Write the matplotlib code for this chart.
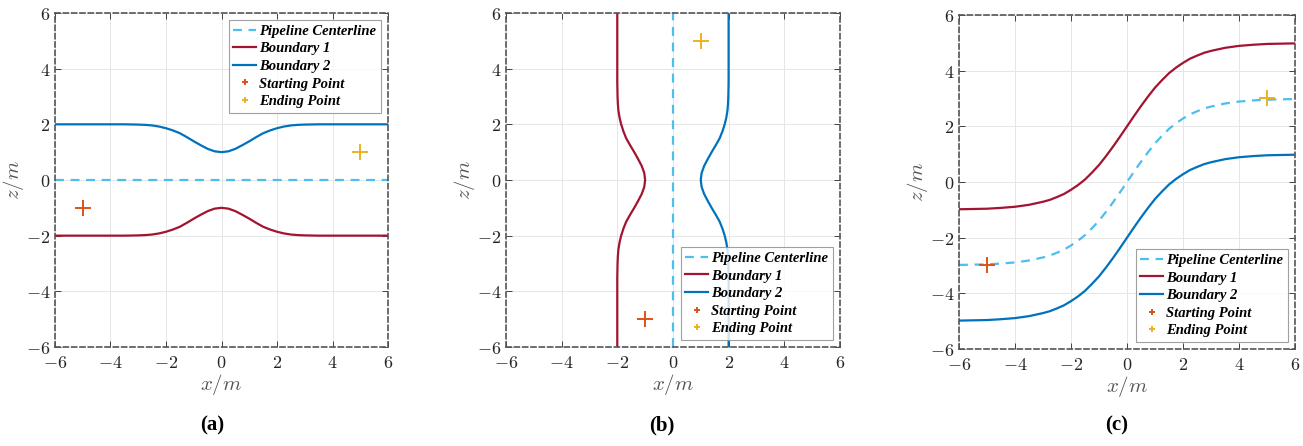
import numpy as np
import matplotlib.pyplot as plt
from matplotlib.ticker import FuncFormatter

plt.rcParams['mathtext.fontset'] = 'cm'

# colours (MATLAB default order)
C_CENTER = "#4DBEEE"
C_B1 = "#A2142F"
C_B2 = "#0072BD"
C_START = "#D95319"
C_END = "#EDB120"

# ---- panel (a): straight pipeline along x, boundaries narrowing near x=0
a_x = [-6, -5, -4, -3.5, -3, -2.75, -2.5, -2.25, -2, -1.75, -1.5, -1.25, -1, -0.75, -0.5, -0.25, 0,
       0.25, 0.5, 0.75, 1, 1.25, 1.5, 1.75, 2, 2.25, 2.5, 2.75, 3, 3.5, 4, 5, 6]
a_b2 = [2.0, 2.0, 2.0, 2.0, 1.99, 1.98, 1.96, 1.92, 1.86, 1.78, 1.68, 1.54, 1.39, 1.25, 1.12, 1.03, 1.0,
        1.03, 1.12, 1.25, 1.39, 1.54, 1.68, 1.78, 1.86, 1.92, 1.96, 1.98, 1.99, 2.0, 2.0, 2.0, 2.0]
a_b1 = [-v for v in a_b2]
a_center = [0.0] * len(a_x)
a_start = (-5, -1)
a_end = (5, 1)

# ---- panel (b): pipeline along z (x position of each line given per z)
b_z = a_x
b_b1 = [-v for v in a_b2]
b_b2 = a_b2
b_center = [0.0] * len(b_z)
b_start = (-1, -5)
b_end = (1, 5)

# ---- panel (c): S-shaped pipeline
c_x = [-6, -5.5, -5, -4.5, -4, -3.5, -3, -2.75, -2.5, -2.25, -2, -1.75, -1.5, -1.25, -1, -0.75, -0.5, -0.25, 0,
       0.25, 0.5, 0.75, 1, 1.25, 1.5, 1.75, 2, 2.25, 2.5, 2.75, 3, 3.5, 4, 4.5, 5, 5.5, 6]
c_center = [-2.98, -2.97, -2.96, -2.93, -2.89, -2.82, -2.71, -2.64, -2.54, -2.43, -2.28, -2.11, -1.91, -1.66,
            -1.39, -1.07, -0.73, -0.37, 0.0,
            0.37, 0.73, 1.07, 1.39, 1.66, 1.91, 2.11, 2.28, 2.43, 2.54, 2.64, 2.71, 2.82, 2.89, 2.93, 2.96,
            2.97, 2.98]
c_b1 = [v + 2 for v in c_center]
c_b2 = [v - 2 for v in c_center]
c_start = (-5, -3)
c_end = (5, 3)

labels = ["Pipeline Centerline", "Boundary 1", "Boundary 2", "Starting Point", "Ending Point"]
ticks = [-6, -4, -2, 0, 2, 4, 6]

fig = plt.figure(figsize=(13.03, 4.46), dpi=100)
positions = [
    [0.0422, 0.2220, 0.2556, 0.7489],
    [0.3883, 0.2220, 0.2563, 0.7489],
    [0.7360, 0.2175, 0.2579, 0.7489],
]
fmt = FuncFormatter(lambda v, p: r"$%g$" % v)
legend_font = {"family": "Liberation Serif", "weight": "bold", "style": "italic", "size": 10.5}


def style_axes(ax):
    ax.set_xlim(-6, 6)
    ax.set_ylim(-6, 6)
    ax.set_xticks(ticks)
    ax.set_yticks(ticks)
    ax.xaxis.set_major_formatter(fmt)
    ax.yaxis.set_major_formatter(fmt)
    ax.tick_params(direction="in", length=4, width=0.6, colors="#262626",
                   labelsize=13, top=True, right=True)
    ax.tick_params(axis="x", pad=5)
    ax.grid(True, color="#e6e6e6", linewidth=0.7)
    ax.set_axisbelow(True)
    for s in ax.spines.values():
        s.set_linestyle((0, (3, 2)))
        s.set_color("#555555")
        s.set_linewidth(1.2)
    ax.set_xlabel(r"$x/m$", fontsize=15, color="#555555", labelpad=0)
    ax.set_ylabel(r"$z/m$", fontsize=15, color="#555555", labelpad=0)


def draw_points(ax, start, end):
    ax.plot(start[0], start[1], "+", color=C_START, markersize=11, markeredgewidth=1.4)
    ax.plot(end[0], end[1], "+", color=C_END, markersize=11, markeredgewidth=1.4)


def add_legend(ax, loc):
    h = [
        plt.Line2D([], [], color=C_CENTER, linestyle=(0, (4, 3)), linewidth=1.6),
        plt.Line2D([], [], color=C_B1, linewidth=1.6),
        plt.Line2D([], [], color=C_B2, linewidth=1.6),
        plt.Line2D([], [], color=C_START, marker="+", linestyle="none", markersize=5, markeredgewidth=1.4),
        plt.Line2D([], [], color=C_END, marker="+", linestyle="none", markersize=5, markeredgewidth=1.4),
    ]
    leg = ax.legend(h, labels, loc=loc, prop=legend_font, frameon=True, fancybox=False,
                    handlelength=1.6, handletextpad=0.2, labelspacing=0.3,
                    borderpad=0.3, borderaxespad=0.5)
    leg.get_frame().set_edgecolor("#888888")
    leg.get_frame().set_linewidth(0.8)


# (a)
ax = fig.add_axes(positions[0])
ax.plot(a_x, a_center, color=C_CENTER, linestyle=(0, (4, 3)), linewidth=1.6)
ax.plot(a_x, a_b1, color=C_B1, linewidth=1.6)
ax.plot(a_x, a_b2, color=C_B2, linewidth=1.6)
draw_points(ax, a_start, a_end)
style_axes(ax)
add_legend(ax, "upper right")

# (b)
ax = fig.add_axes(positions[1])
ax.plot(b_center, b_z, color=C_CENTER, linestyle=(0, (4, 3)), linewidth=1.6)
ax.plot(b_b1, b_z, color=C_B1, linewidth=1.6)
ax.plot(b_b2, b_z, color=C_B2, linewidth=1.6)
draw_points(ax, b_start, b_end)
style_axes(ax)
add_legend(ax, "lower right")

# (c)
ax = fig.add_axes(positions[2])
ax.plot(c_x, c_center, color=C_CENTER, linestyle=(0, (4, 3)), linewidth=1.6)
ax.plot(c_x, c_b1, color=C_B1, linewidth=1.6)
ax.plot(c_x, c_b2, color=C_B2, linewidth=1.6)
draw_points(ax, c_start, c_end)
style_axes(ax)
add_legend(ax, "lower right")

for x, lab in [(0.163, "(a)"), (0.508, "(b)"), (0.857, "(c)")]:
    fig.text(x, 0.045, lab, ha="center", va="center", fontsize=15,
             fontweight="bold", family="Liberation Serif")

fig.savefig("out.png", dpi=100)
